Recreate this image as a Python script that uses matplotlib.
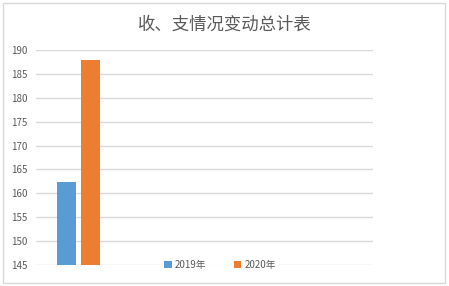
import matplotlib.pyplot as plt
from matplotlib.patches import Rectangle
import numpy as np

plt.rcParams['font.family'] = ['Noto Sans CJK SC', 'DejaVu Sans']

# 数据
categories = ['收、支情况', '', '', '']
y2019 = [162.4, np.nan, np.nan, np.nan]
y2020 = [188, np.nan, np.nan, np.nan]
series_names = ['2019年', '2020年']
yticks = [145, 150, 155, 160, 165, 170, 175, 180, 185, 190]

fig = plt.figure(figsize=(4.49, 2.86), dpi=100)
# 外框
fig.patches.append(Rectangle((3 / 449, 3 / 286), 442 / 449, 280 / 286, transform=fig.transFigure,
                             fill=False, edgecolor='#d9d9d9', linewidth=1))

ax = fig.add_axes([36 / 449, 1 - 265 / 286, 337 / 449, 215 / 286])
x = np.arange(len(categories))
w = 0.226
ax.bar(x - 0.143, y2019, width=w, color='#5b9bd5', label=series_names[0])
ax.bar(x + 0.143, y2020, width=w, color='#ed7d31', label=series_names[1])

ax.set_xlim(-0.5, len(categories) - 0.5)
ax.set_ylim(145, 190)
ax.set_yticks(yticks)
ax.set_xticks([])
ax.tick_params(axis='y', length=0, labelsize=7, labelcolor='#595959', pad=6)
ax.grid(axis='y', color='#d9d9d9', linewidth=1)
ax.set_axisbelow(True)
for s in ax.spines.values():
    s.set_visible(False)

fig.text(0.5, 1 - 25 / 286, '收、支情况变动总计表', ha='center', va='center',
         fontsize=12.5, color='#595959')

leg = fig.legend(loc='center', bbox_to_anchor=(220 / 449, 1 - 265 / 286), ncol=2,
                 frameon=True, fontsize=7, handlelength=0.8, handleheight=0.8,
                 columnspacing=2.8, handletextpad=0.3, borderpad=0.1)
leg.get_frame().set_edgecolor('white')
leg.get_frame().set_facecolor('white')
for t in leg.get_texts():
    t.set_color('#595959')

fig.savefig('out.png', dpi=100)
